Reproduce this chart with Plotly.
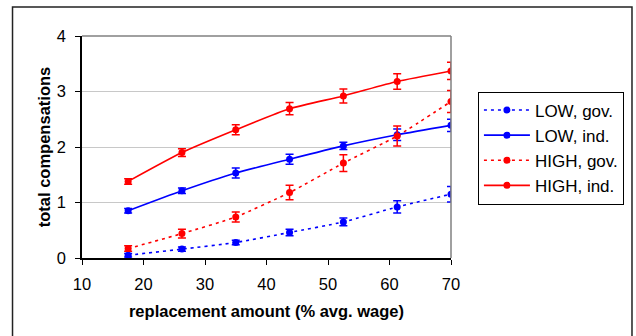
import plotly.graph_objects as go

# replacement amount (% of average wage)
replacement = [17.5, 26.25, 35, 43.75, 52.5, 61.25, 70]

low_gov = [0.05, 0.16, 0.28, 0.46, 0.65, 0.92, 1.15]
low_gov_err = [0.03, 0.04, 0.04, 0.06, 0.07, 0.11, 0.14]

low_ind = [0.85, 1.21, 1.53, 1.78, 2.02, 2.22, 2.39]
low_ind_err = [0.04, 0.05, 0.09, 0.09, 0.065, 0.105, 0.11]

high_gov = [0.17, 0.44, 0.74, 1.18, 1.71, 2.20, 2.82]
high_gov_err = [0.05, 0.08, 0.09, 0.13, 0.15, 0.18, 0.20]

high_ind = [1.38, 1.90, 2.31, 2.69, 2.92, 3.18, 3.37]
high_ind_err = [0.05, 0.07, 0.09, 0.11, 0.125, 0.14, 0.155]

series = [
    ("LOW, gov.", low_gov, low_gov_err, "#0000ff", "3px,4px"),
    ("LOW, ind.", low_ind, low_ind_err, "#0000ff", "solid"),
    ("HIGH, gov.", high_gov, high_gov_err, "#ff0000", "3px,4px"),
    ("HIGH, ind.", high_ind, high_ind_err, "#ff0000", "solid"),
]

FONT = "Liberation Sans, Arial, sans-serif"

fig = go.Figure()
for name, vals, errs, color, dash in series:
    fig.add_trace(go.Scatter(
        x=replacement, y=vals, name=name, mode="lines+markers",
        line=dict(color=color, width=1.6, dash=dash, shape="spline", smoothing=0.6),
        marker=dict(color=color, size=7, symbol="circle"),
        error_y=dict(type="data", array=errs, visible=True,
                     color=color, thickness=1.5, width=4),
    ))

fig.update_layout(
    width=636, height=336,
    margin=dict(l=82, r=185, t=36, b=78, autoexpand=False),
    paper_bgcolor="white", plot_bgcolor="white",
    font=dict(family=FONT, size=16, color="black"),
    showlegend=True,
    legend=dict(
        x=1.073, y=0.75, xanchor="left", yanchor="top",
        bordercolor="black", borderwidth=1, bgcolor="white",
        font=dict(family=FONT, size=17, color="black"),
        tracegroupgap=0, itemwidth=46,
    ),
    xaxis=dict(
        range=[10, 70], tickvals=[10, 20, 30, 40, 50, 60, 70],
        showgrid=False, zeroline=False,
        showline=True, linecolor="black", linewidth=1.5,
        ticks="outside", ticklen=5, tickcolor="black", tickwidth=1,
        tickfont=dict(size=16.5), ticklabelstandoff=5,
        title=dict(text="<b>replacement amount (% avg. wage)</b>",
                   font=dict(size=16.5), standoff=14),
    ),
    yaxis=dict(
        range=[0, 4], tickvals=[0, 1, 2, 3, 4],
        showgrid=True, gridcolor="#c8c8c8", gridwidth=1,
        zeroline=False,
        showline=True, linecolor="black", linewidth=1.5,
        ticks="outside", ticklen=5, tickcolor="black", tickwidth=1,
        tickfont=dict(size=16.5), ticklabelstandoff=6,
        title=dict(text="<b>total compensations</b>",
                   font=dict(size=16.5), standoff=2),
    ),
)

# grey plot-area frame on the top and right sides
fig.add_shape(type="line", xref="paper", yref="paper",
              x0=0, x1=1, y0=1, y1=1, line=dict(color="#808080", width=1.5))
fig.add_shape(type="line", xref="paper", yref="paper",
              x0=1, x1=1, y0=0, y1=1, line=dict(color="#808080", width=1.5))

# outer chart frame
fig.add_shape(type="rect", xref="paper", yref="paper",
              x0=-0.1883, x1=1.4905, y0=-0.5, y1=1.1306,
              line=dict(color="#222222", width=1.5), layer="below")

fig.write_html("out.html")
